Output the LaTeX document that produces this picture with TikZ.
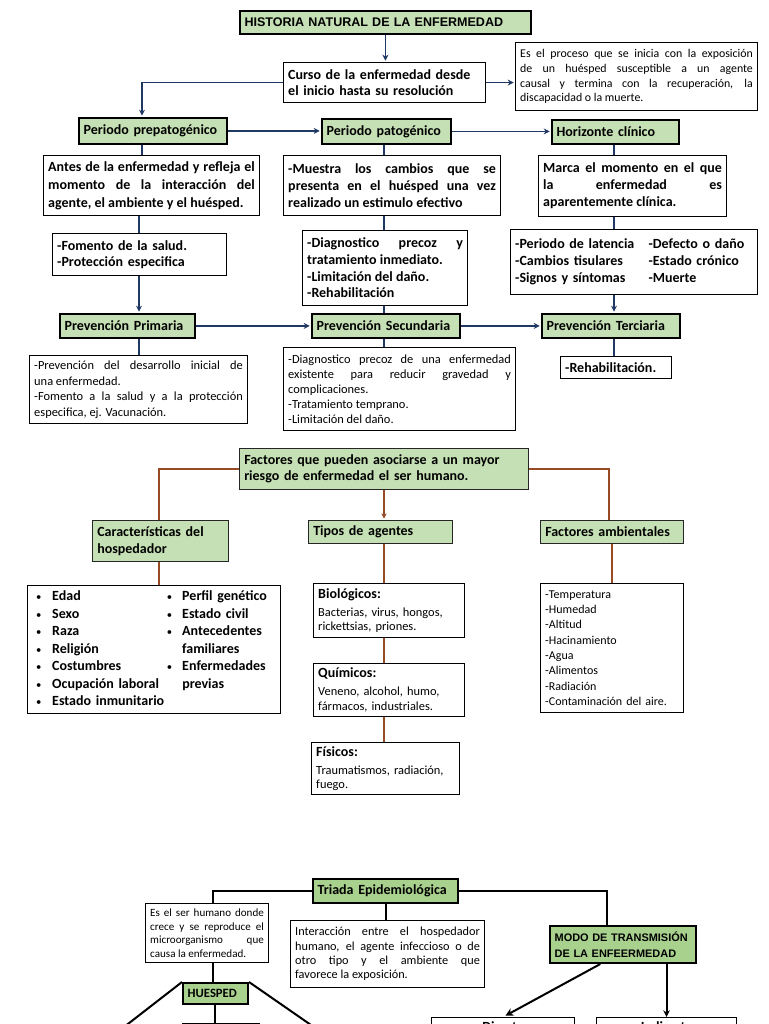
\documentclass[tikz,border=0pt]{standalone}
\usepackage{fontspec}
\setmainfont{Carlito}
\newfontfamily\arialf{Liberation Sans}
\usetikzlibrary{arrows.meta,calc}
\definecolor{gfill}{RGB}{197,224,180}
\definecolor{gfillb}{RGB}{169,209,142}
\definecolor{navy}{RGB}{32,56,100}
\definecolor{brn}{RGB}{150,75,35}
\tolerance=10000 \hbadness=10000 \hfuzz=3pt
\newcommand\myfb[2]{\fontsize{#1}{#2}\selectfont\bfseries}
\newcommand\myfr[2]{\fontsize{#1}{#2}\selectfont}
\newcommand\bul{{\mdseries\fontsize{8}{8}\selectfont\textbullet}}
\newcommand\mybox[7]{%
 \pgfmathsetmacro\mybw{(#5-#3)*0.75}%
 \pgfmathsetmacro\mybh{(#6-#4)*0.75}%
 \pgfmathsetmacro\mytw{\mybw-7}%
 \node[#1, anchor=north west, inner xsep=3.5pt, inner ysep=0pt, text width=\mytw pt, minimum width=\mybw pt, minimum height=\mybh pt] (#2) at (#3,#4) {#7};}
\tikzset{
 gb/.style={draw=black, fill=gfill, line width=1.4pt, align=left, font=\myfb{10.5}{12}},
 gbb/.style={draw=black!85, fill=gfill, line width=0.9pt, align=left, font=\myfb{10.5}{12}},
 gc/.style={draw=black, fill=gfillb, line width=1.5pt, align=left, font=\myfb{10.5}{12}},
 wb/.style={draw=black, fill=white, line width=0.85pt, align=justify},
 arr/.style={draw=navy, line width=1.2pt, -{Stealth[length=4.5pt,width=4.5pt]}, shorten >=1pt},
 ln/.style={draw=navy, line width=1.2pt},
 bln/.style={draw=brn, line width=1.1pt},
 barr/.style={draw=brn, line width=1.1pt, -{Stealth[length=4pt,width=4pt]}, shorten >=1pt},
 kln/.style={draw=black, line width=1.5pt},
 kthin/.style={draw=black, line width=1pt},
 karr/.style={draw=black, line width=1.5pt, -{Stealth[length=6pt,width=6pt]}, shorten >=2pt},
}
\begin{document}
\begin{tikzpicture}[x=0.75pt,y=-0.75pt]
\useasboundingbox (0,0) rectangle (768,1024);
\clip (0,0) rectangle (768,1024);
\fill[white] (0,0) rectangle (768,1024);

% ---------- Section 1 ----------
\mybox{gb,font=\arialf\bfseries\fontsize{9.4}{11}\selectfont}{title}{239}{10}{530}{33}{HISTORIA NATURAL DE LA ENFERMEDAD}
\mybox{wb,align=left,font=\myfb{10.5}{12}}{curso}{283}{62}{485}{102}{Curso de la enfermedad desde\\ el inicio hasta su resolución}
\mybox{wb,font=\myfr{8.9}{11}}{esel}{515}{42}{757}{110}{Es el proceso que se inicia con la exposición\linebreak de un huésped susceptible a un agente\linebreak causal y termina con la recuperación, la\linebreak discapacidad o la muerte.}
\mybox{gb}{prepat}{78}{117}{226}{143}{Periodo prepatogénico}
\mybox{gb}{patog}{321}{118}{450}{143}{Periodo patogénico}
\mybox{gb}{horiz}{551}{119}{678}{143}{Horizonte clínico}
\mybox{wb,font=\myfb{10.5}{13.5}}{antes}{43}{155}{259}{215}{Antes de la enfermedad y refleja el\linebreak momento de la interacción del\linebreak agente, el ambiente y el huésped.}
\mybox{wb,font=\myfb{10.5}{13}}{muestra}{283}{155}{500}{215}{-Muestra los cambios que se\linebreak presenta en el huésped una vez\linebreak realizado un estimulo efectivo}
\mybox{wb,font=\myfb{10.5}{12.8}}{marca}{538}{155}{726}{216}{Marca el momento en el que\linebreak la enfermedad es\linebreak aparentemente clínica.}
\mybox{wb,align=left,font=\myfb{10.5}{12.5}}{fomento}{52}{233}{226}{275}{-Fomento de la salud.\\ -Protección especifica}
\mybox{wb,font=\myfb{10.5}{12.5}}{diag}{302}{230}{467}{305}{-Diagnostico precoz y\linebreak tratamiento inmediato.\\ -Limitación del daño.\\ -Rehabilitación}
\mybox{wb,align=left,font=\myfb{10.5}{12.75}}{laten}{510}{229}{757}{294}{\begin{tabular}{@{}p{100pt}@{}l@{}}-Periodo de latencia & -Defecto o daño\\ -Cambios tisulares & -Estado crónico\\ -Signos y síntomas & -Muerte\end{tabular}}
\mybox{gb}{primaria}{59}{313}{194}{337}{Prevención Primaria}
\mybox{gb}{prevsec}{311}{313}{459}{337}{Prevención Secundaria}
\mybox{gb}{terc}{541}{313}{679}{337}{Prevención Terciaria}
\mybox{wb,font=\myfr{9.3}{11.6}}{primlist}{29}{355}{247}{423}{-Prevención del desarrollo inicial de\linebreak una enfermedad.\\ -Fomento a la salud y a la protección\linebreak especifica, ej. Vacunación.}
\mybox{wb,font=\myfr{9.3}{11.2}}{seclist}{283}{347}{515}{430}{-Diagnostico precoz de una enfermedad\linebreak existente para reducir gravedad y\linebreak complicaciones.\\ -Tratamiento temprano.\\ -Limitación del daño.}
\mybox{wb,align=left,font=\myfb{10.5}{12}}{rehab}{560}{356}{671}{378}{-Rehabilitación.}

\coordinate (cA) at (142,0);
\coordinate (cA2) at (139,0);
\coordinate (cB) at (384,0);
\coordinate (cC) at (614,0);
\draw[arr] (title.south) -- (title.south |- curso.north);
\draw[arr] (curso.east) -- (curso.east -| esel.west);
\draw[arr] (curso.west) -| (cA |- prepat.north);
\draw[arr] (prepat.east) -- (prepat.east -| patog.west);
\draw[arr] (patog.east) -- (patog.east -| horiz.west);
\draw[ln] (cA |- prepat.south) -- (cA |- antes.north);
\draw[ln] (cA2 |- antes.south) -- (cA2 |- fomento.north);
\draw[arr] (cA2 |- fomento.south) -- (cA2 |- primaria.north);
\draw[ln] (cA2 |- primaria.south) -- (cA2 |- primlist.north);
\draw[arr] (primaria.east) -- (primaria.east -| prevsec.west);
\draw[arr] (prevsec.east) -- (prevsec.east -| terc.west);
\draw[ln] (cB |- patog.south) -- (cB |- muestra.north);
\draw[ln] (cB |- muestra.south) -- (cB |- diag.north);
\draw[ln] (cB |- diag.south) -- (cB |- prevsec.north);
\draw[ln] (cB |- prevsec.south) -- (cB |- seclist.north);
\draw[ln] (cC |- horiz.south) -- (cC |- marca.north);
\draw[ln] (cC |- marca.south) -- (cC |- laten.north);
\draw[arr] (cC |- laten.south) -- (cC |- terc.north);
\draw[ln] (cC |- terc.south) -- (cC |- rehab.north);

% ---------- Section 2 ----------
\mybox{gbb}{factores}{239}{448}{528}{489}{Factores que pueden asociarse a un mayor\\ riesgo de enfermedad el ser humano.}
\mybox{gbb,font=\myfb{10.5}{12.5}}{caract}{92}{520}{228}{561}{Características del\\ hospedador}
\mybox{gbb}{tipos}{308}{520}{452}{543}{Tipos de agentes}
\mybox{gbb}{ambient}{540}{520}{683}{543}{Factores ambientales}
\mybox{wb,align=left,font=\myfb{10.5}{13.1}}{caractlist}{27}{585}{280}{713}{\hspace*{3pt}\begin{tabular}{@{}p{12pt}@{}p{86pt}@{}p{11.5pt}@{}l@{}}\bul&Edad&\bul&Perfil genético\\ \bul&Sexo&\bul&Estado civil\\ \bul&Raza&\bul&Antecedentes\\ \bul&Religión&&familiares\\ \bul&Costumbres&\bul&Enfermedades\\ \bul&Ocupación laboral&&previas\\ \bul&Estado inmunitario&&\end{tabular}}
\mybox{wb,align=left,font=\myfr{9.3}{11}}{bio}{313}{583}{464}{637}{{\myfb{10.5}{13}Biológicos:\par}\vspace{2.5pt}Bacterias, virus, hongos,\\ rickettsias, priones.}
\mybox{wb,align=left,font=\myfr{9.3}{11}}{quim}{313}{663}{464}{716}{{\myfb{10.5}{13}Químicos:\par}\vspace{2.5pt}Veneno, alcohol, humo,\\ fármacos, industriales.}
\mybox{wb,align=left,font=\myfr{9.3}{11}}{fis}{311}{742}{459}{794}{{\myfb{10.5}{13}Físicos:\par}\vspace{2.5pt}Traumatismos, radiación,\\ fuego.}
\mybox{wb,align=left,font=\myfr{9}{11.5}}{amblist}{540}{583}{683}{712}{-Temperatura\\ -Humedad\\ -Altitud\\ -Hacinamiento\\ -Agua\\ -Alimentos\\ -Radiación\\ -Contaminación del aire.}

\coordinate (cD) at (159,0);
\coordinate (cE) at (384,0);
\coordinate (cF) at (609,0);
\coordinate (cG) at (612,0);
\draw[bln] (factores.west) -| (cD |- caract.north);
\draw[bln] (factores.east) -| (cF |- ambient.north);
\draw[barr] (cE |- factores.south) -- (cE |- tipos.north);
\draw[bln] (cD |- caract.south) -- (cD |- caractlist.north);
\draw[bln] (cE |- tipos.south) -- (cE |- bio.north);
\draw[bln] (cE |- bio.south) -- (cE |- quim.north);
\draw[bln] (cE |- quim.south) -- (cE |- fis.north);
\draw[bln,line width=0.8pt] (cG |- ambient.south) -- (cG |- amblist.north);

% ---------- Section 3 ----------
\mybox{gc}{triada}{312}{878}{457}{902}{Triada Epidemiológica}
\mybox{wb,font=\myfr{8.3}{10.3}}{eselser}{145}{903}{268}{962}{Es el ser humano donde\linebreak crece y se reproduce el\linebreak microorganismo que\linebreak causa la enfermedad.}
\mybox{wb,font=\myfr{9.2}{10.7}}{interacc}{290}{920}{484}{987}{Interacción entre el hospedador\linebreak humano, el agente infeccioso o de\linebreak otro tipo y el ambiente que\linebreak favorece la exposición.}
\mybox{gc,font=\myfb{9.5}{11}}{huesped}{182}{982}{247}{1003}{HUESPED}
\mybox{gc,font=\arialf\bfseries\fontsize{8.2}{12}\selectfont}{modo}{549}{925}{695}{962}{MODO DE TRANSMISIÓN\\ DE LA ENFEERMEDAD}
\mybox{gc}{below}{182}{1023}{258}{1050}{}
\mybox{wb,align=center,font=\myfb{10.5}{12}}{directa}{431}{1017}{574}{1036}{Directa}
\mybox{wb,align=center,font=\myfb{10.5}{12}}{indirecta}{596}{1017}{736}{1036}{Indirecta}

\coordinate (cH) at (213,0);
\coordinate (cI) at (607,0);
\coordinate (cJ) at (386,0);
\coordinate (cK) at (215,0);
\draw[kln] (triada.west) -| (cH |- eselser.north);
\draw[kthin] (triada.east) -| (cI |- modo.north);
\draw[kln] (cJ |- triada.south) -- (cJ |- interacc.north);
\draw[kln] (cH |- eselser.south) -- (cH |- huesped.north);
\draw[kln] (cK |- huesped.south) -- (cK |- below.north);
\draw[kln] (huesped.north west) -- ++(-67,52);
\draw[kln] (huesped.north east) -- ++(75,52);
\draw[karr] ([xshift=-17pt]modo.south) -- (directa.north);
\draw[kln,-{Stealth[length=5pt,width=5pt]}] (modo.south -| indirecta.north) -- (indirecta.north);
\end{tikzpicture}
\end{document}
